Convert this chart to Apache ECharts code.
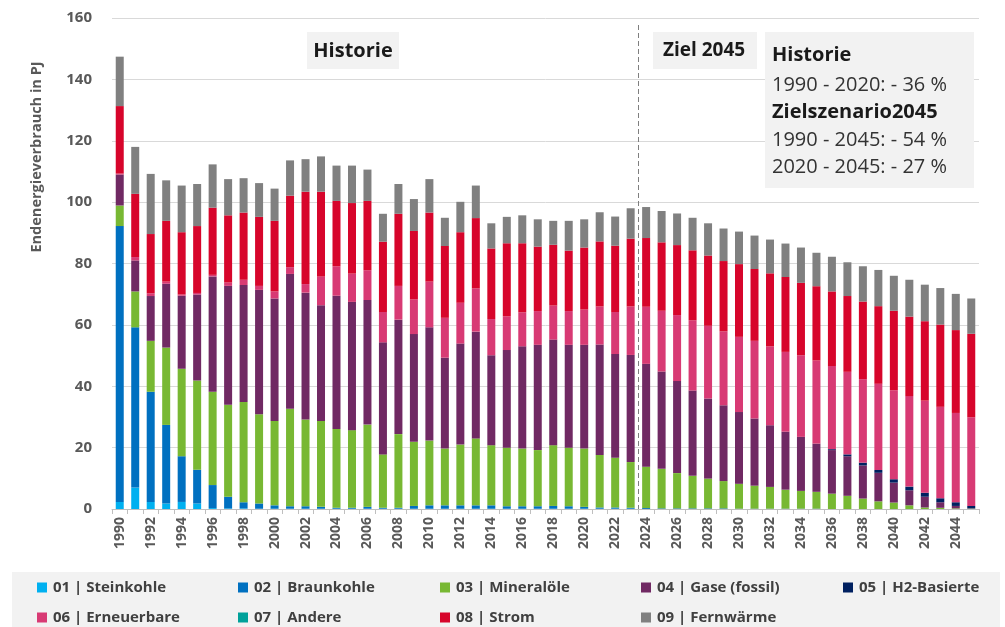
<!DOCTYPE html>
<html lang="de" style="height: 100%">
<head>
  <meta charset="utf-8">
  <title>Endenergieverbrauch</title>
  <style>
    body { margin: 0; background: #fff; }
    #container { width: 1005px; height: 627px; }
  </style>
</head>
<body style="height: 100%">
  <div id="container"></div>
  <script type="text/javascript" src="https://fastly.jsdelivr.net/npm/echarts@6/dist/echarts.min.js"></script>
  <script type="text/javascript">
    // Jahre 1990 - 2045
    var jahre = [];
    for (var j = 1990; j <= 2045; j++) jahre.push(String(j));

    var steinkohle = [2.3, 7.0, 2.3, 1.8, 2.3, 1.8, 0.3, 0.2, 0.2, 0.1, 0.1, 0.1, 0.1, 0.1, 0.1, 0.1, 0.1, 0.1, 0.1, 0.1,
      0.1, 0.1, 0.1, 0.1, 0.1, 0.1, 0.1, 0.1, 0.1, 0.1, 0.1, 0.1, 0.1, 0.1, 0, 0, 0, 0, 0, 0,
      0, 0, 0, 0, 0, 0, 0, 0, 0, 0, 0, 0, 0, 0, 0, 0];
    var braunkohle = [89.9, 52.2, 35.9, 25.6, 14.9, 11.0, 7.5, 3.8, 2.0, 1.7, 1.1, 0.8, 0.8, 0.6, 0.3, 0.3, 0.6, 0.3, 0.3, 0.9,
      1.1, 1.1, 1.1, 1.1, 1.1, 0.8, 0.8, 0.8, 0.9, 0.8, 0.6, 0.4, 0.4, 0.3, 0.3, 0.2, 0.2, 0.2, 0.2, 0.2,
      0.1, 0.1, 0.1, 0.1, 0.1, 0.1, 0, 0, 0, 0, 0, 0, 0, 0, 0, 0];
    var mineraloele = [6.7, 11.7, 16.6, 25.2, 28.5, 29.1, 30.4, 30.0, 32.7, 29.1, 27.5, 31.8, 28.3, 28.0, 25.7, 25.3, 26.8, 17.4, 24.0, 20.9,
      21.1, 18.5, 19.8, 21.8, 19.6, 19.1, 18.8, 18.3, 19.8, 19.1, 19.0, 17.1, 16.2, 14.9, 13.5, 12.9, 11.5, 10.6, 9.7, 8.9,
      8.1, 7.5, 7.1, 6.2, 5.8, 5.5, 5.0, 4.3, 3.4, 2.5, 2.1, 1.2, 0.5, 0.4, 0.2, 0.1];
    var gase = [10.1, 10.1, 14.6, 20.8, 23.8, 28.0, 37.6, 38.7, 38.1, 40.5, 39.9, 43.9, 41.3, 37.7, 43.4, 41.8, 40.6, 36.5, 37.3, 35.1,
      36.9, 29.6, 32.9, 34.8, 29.3, 31.8, 33.3, 34.3, 34.4, 33.5, 33.8, 36.0, 33.8, 34.9, 33.5, 31.7, 30.0, 27.8, 26.1, 24.7,
      23.4, 21.9, 20.1, 18.9, 17.6, 15.7, 14.2, 12.9, 10.8, 9.3, 6.5, 4.9, 3.5, 1.8, 0.8, 0.1];
    var h2Basierte = [0, 0, 0, 0, 0, 0, 0, 0, 0, 0, 0, 0, 0, 0, 0, 0, 0, 0, 0, 0,
      0, 0, 0, 0, 0, 0, 0, 0, 0, 0, 0, 0, 0, 0, 0, 0, 0, 0, 0, 0,
      0, 0, 0, 0, 0, 0, 0.3, 0.6, 0.9, 0.9, 1.1, 1.2, 1.3, 1.3, 1.2, 0.8];
    var erneuerbare = [0.3, 1.1, 0.9, 0.7, 0.4, 0.5, 0.5, 1.1, 1.7, 1.3, 2.3, 2.2, 2.8, 9.4, 9.6, 9.2, 9.7, 9.9, 11.0, 11.3,
      14.9, 13.0, 13.3, 14.1, 11.8, 11.0, 11.1, 11.0, 11.1, 11.0, 11.5, 12.4, 13.7, 15.8, 18.6, 19.8, 21.5, 22.9, 23.7, 24.1,
      24.5, 25.3, 25.7, 26.0, 26.6, 27.1, 27.1, 26.9, 27.2, 28.1, 29.0, 29.5, 30.0, 29.8, 29.1, 28.9];
    var andere = [0, 0, 0, 0, 0, 0, 0, 0, 0, 0, 0, 0, 0, 0, 0, 0, 0, 0, 0, 0,
      0, 0, 0, 0, 0, 0, 0, 0, 0, 0, 0, 0, 0, 0, 0, 0, 0, 0, 0, 0,
      0, 0, 0, 0, 0, 0, 0, 0, 0, 0, 0, 0, 0, 0, 0, 0];
    var strom = [22.0, 20.6, 19.3, 19.8, 20.3, 21.8, 21.9, 21.9, 21.9, 22.5, 23.0, 23.3, 30.1, 27.6, 21.3, 23.0, 22.6, 22.9, 23.5, 22.3,
      22.5, 23.4, 23.0, 22.9, 23.0, 23.8, 22.5, 21.0, 19.8, 19.7, 20.2, 21.2, 21.6, 22.1, 22.4, 22.3, 22.8, 22.8, 22.9, 22.9,
      23.7, 23.4, 23.8, 24.4, 23.6, 24.2, 24.3, 24.7, 25.3, 25.3, 25.9, 25.9, 25.9, 26.8, 27.0, 27.2];
    var fernwaerme = [16.1, 15.3, 19.6, 13.2, 15.2, 13.7, 14.1, 11.8, 11.2, 11.0, 10.5, 11.5, 10.6, 11.5, 11.5, 12.2, 10.2, 9.1, 9.7, 10.4,
      10.9, 9.2, 9.9, 10.6, 8.2, 8.6, 9.1, 8.9, 7.8, 9.7, 9.2, 9.5, 9.5, 9.9, 10.1, 10.2, 10.3, 10.6, 10.5, 10.6,
      10.6, 10.9, 11.0, 10.9, 11.5, 10.9, 11.3, 11.0, 11.5, 11.8, 11.4, 12.0, 11.9, 11.9, 11.8, 11.5];

    var namen = ['01 | Steinkohle', '02 | Braunkohle', '03 | Mineralöle', '04 | Gase (fossil)', '05 | H2-Basierte',
      '06 | Erneuerbare', '07 | Andere', '08 | Strom', '09 | Fernwärme'];
    var farben = ['#00b0f0', '#0070c0', '#78b833', '#702963', '#002060', '#d83a74', '#00a19a', '#d7052b', '#808080'];
    var werte = [steinkohle, braunkohle, mineraloele, gase, h2Basierte, erneuerbare, andere, strom, fernwaerme];

    var FONT = '"Open Sans", "Noto Sans", sans-serif';

    var series = namen.map(function (n, i) {
      return {
        name: n,
        type: 'bar',
        stack: 'gesamt',
        barWidth: 8,
        data: werte[i],
        itemStyle: { color: farben[i] }
      };
    });

    // Legende: 5 Einträge oben, 4 unten, feste Spalten
    var spalten = [37, 238, 440, 641, 843];
    var legenden = namen.map(function (n, i) {
      return {
        data: [n],
        left: spalten[i % 5],
        top: i < 5 ? 580 : 610,
        padding: 0,
        itemWidth: 10, itemHeight: 10,
        icon: 'rect',
        selectedMode: false,
        textStyle: { fontFamily: FONT, fontSize: 15, fontWeight: 'bold', color: '#404040', padding: [0, 0, 0, 1] }
      };
    });

    var dom = document.getElementById('container');
    var myChart = echarts.init(dom, null, { renderer: 'canvas' });

    var option = {
      animation: false,
      grid: { left: 112, right: 26, top: 18, bottom: 118 },
      legend: legenden,
      xAxis: {
        type: 'category',
        data: jahre,
        axisLine: { lineStyle: { color: '#bfbfbf' } },
        axisTick: { show: true, interval: 0, length: 5, lineStyle: { color: '#bfbfbf' } },
        axisLabel: {
          interval: 1, rotate: 90, margin: 8,
          fontFamily: FONT, fontSize: 14, fontWeight: 'bold', color: '#595959'
        }
      },
      yAxis: {
        type: 'value',
        min: 0, max: 160, interval: 20,
        axisLine: { show: false },
        axisTick: { show: false },
        splitLine: { lineStyle: { color: '#d9d9d9' } },
        axisLabel: { margin: 20, fontFamily: FONT, fontSize: 15, fontWeight: 'bold', color: '#595959' }
      },
      series: series
    };

    myChart.setOption(option);

    // Trennlinie zwischen 2023 und 2024, Textfelder
    var x1 = myChart.convertToPixel({ xAxisIndex: 0 }, '2023');
    var x2 = myChart.convertToPixel({ xAxisIndex: 0 }, '2024');
    var yTop = myChart.convertToPixel({ yAxisIndex: 0 }, 160);
    var yNull = myChart.convertToPixel({ yAxisIndex: 0 }, 0);
    var xm = Math.round((x1 + x2) / 2) + 0.5;

    myChart.setOption({
      graphic: [
        { type: 'rect', left: 12, top: 572, shape: { width: 988, height: 55 }, style: { fill: '#f2f2f2' }, z: -1 },
        {
          type: 'line', shape: { x1: xm, y1: yTop + 7, x2: xm, y2: yNull },
          style: { stroke: '#7f7f7f', lineWidth: 1, lineDash: [5, 3] }, z: 10
        },
        {
          type: 'text', x: 37, y: 157, rotation: Math.PI / 2,
          style: {
            text: 'Endenergieverbrauch in PJ', fontFamily: FONT, fontSize: 14.5, fontWeight: 'bold',
            fill: '#595959', align: 'center', verticalAlign: 'middle'
          }
        },
        { type: 'rect', shape: { x: 307, y: 32, width: 92, height: 37 }, style: { fill: '#f2f2f2' } },
        {
          type: 'text', x: 353, y: 51,
          style: { text: 'Historie', fontFamily: FONT, fontSize: 20, fontWeight: 'bold', fill: '#1a1a1a', align: 'center', verticalAlign: 'middle' }
        },
        { type: 'rect', shape: { x: 653, y: 32, width: 104, height: 37 }, style: { fill: '#f2f2f2' } },
        {
          type: 'text', x: 704, y: 51,
          style: { text: 'Ziel 2045', fontFamily: FONT, fontSize: 19, fontWeight: 'bold', fill: '#1a1a1a', align: 'center', verticalAlign: 'middle' }
        },
        { type: 'rect', shape: { x: 765, y: 32, width: 209, height: 156 }, style: { fill: '#f2f2f2' } },
        {
          type: 'text', x: 772, y: 55,
          style: { text: 'Historie', fontFamily: FONT, fontSize: 20, fontWeight: 'bold', fill: '#1a1a1a', verticalAlign: 'middle' }
        },
        {
          type: 'text', x: 772, y: 85,
          style: { text: '1990 - 2020: - 36 %', fontFamily: FONT, fontSize: 20, fill: '#333333', verticalAlign: 'middle' }
        },
        {
          type: 'text', x: 772, y: 112,
          style: { text: 'Zielszenario2045', fontFamily: FONT, fontSize: 20, fontWeight: 'bold', fill: '#1a1a1a', verticalAlign: 'middle' }
        },
        {
          type: 'text', x: 772, y: 140,
          style: { text: '1990 - 2045: - 54 %', fontFamily: FONT, fontSize: 20, fill: '#333333', verticalAlign: 'middle' }
        },
        {
          type: 'text', x: 772, y: 167,
          style: { text: '2020 - 2045: - 27 %', fontFamily: FONT, fontSize: 20, fill: '#333333', verticalAlign: 'middle' }
        }
      ]
    });

    window.addEventListener('resize', myChart.resize);
  </script>
</body>
</html>
